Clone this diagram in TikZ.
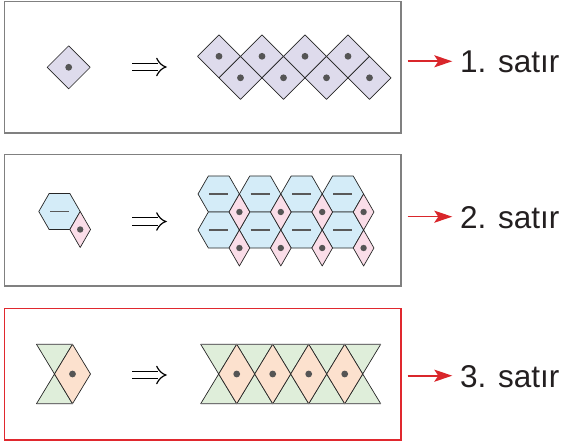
\documentclass[tikz,border=0pt]{standalone}
\usepackage{fontspec}
\setmainfont{Liberation Sans}
\usetikzlibrary{arrows.meta}
\definecolor{sqfill}{HTML}{DEDBEC}
\definecolor{hexfill}{HTML}{D4ECF8}
\definecolor{pinkfill}{HTML}{FADDE8}
\definecolor{greenfill}{HTML}{DFEEDA}
\definecolor{orangefill}{HTML}{FCE1CE}
\definecolor{dotc}{HTML}{555555}
\definecolor{boxgray}{HTML}{808080}
\definecolor{boxred}{HTML}{E0282E}
\definecolor{arrred}{HTML}{D9262B}
\definecolor{textc}{HTML}{231F20}
\begin{document}
\begin{tikzpicture}[x=1pt,y=-1pt,
  tile/.style={draw=black!85, line width=0.7pt, line join=round},
  frame/.style={draw=boxgray, line width=1.3pt},
  redframe/.style={draw=boxred, line width=1.6pt},
  dotmark/.style={fill=dotc},
  dashmark/.style={draw=black!65, line width=1.5pt},
  implies/.style={draw=black, line width=1.2pt},
  redarrow/.style={draw=arrred, line width=1.6pt, -{Stealth[length=18pt,width=12pt,inset=4pt]}},
  label/.style={anchor=base west, inner sep=0pt, text=textc, font=\fontsize{31.5}{32}\selectfont},
  sqr/.pic={\path[tile, fill=sqfill] (-21.5,0)--(0,-21.5)--(21.5,0)--(0,21.5)--cycle;
            \fill[dotmark] (0,0) circle (3.4);},
  hexa/.pic={\path[tile, fill=hexfill] (-20.7,0)--(-10.35,-18)--(10.35,-18)--(20.7,0)--(10.35,18)--(-10.35,18)--cycle;
             \draw[dashmark] (-9.5,0)--(9.5,0);},
  rhomb/.pic={\path[tile, fill=pinkfill] (0,-18)--(10.35,0)--(0,18)--(-10.35,0)--cycle;
              \fill[dotmark] (0,0) circle (3.2);},
  tridown/.pic={\path[tile, fill=greenfill] (-18,-29.7)--(18,-29.7)--(0,0)--cycle;},
  triup/.pic={\path[tile, fill=greenfill] (-18,29.7)--(18,29.7)--(0,0)--cycle;},
  diam/.pic={\path[tile, fill=orangefill] (-18,0)--(0,-29.7)--(18,0)--(0,29.7)--cycle;
             \fill[dotmark] (0,0) circle (3.4);},
  impl/.pic={\draw[implies] (-17,-3.85)--(9,-3.85);
             \draw[implies] (-17,3.85)--(9,3.85);
             \draw[implies, line cap=round] (7.7,-8.7) .. controls (9.8,-4.3) and (12.8,-1.4) .. (16.7,0)
                                   .. controls (12.8,1.4) and (9.8,4.3) .. (7.7,8.7);}
]
\useasboundingbox (0,0) rectangle (561,443);

% frames
\draw[frame] (4.5,1.3) rectangle (401,133);
\draw[frame] (4.5,154.5) rectangle (401,286);
\draw[redframe] (4.5,308.5) rectangle (401,440);

% row 1
\pic at (68.7,67.3) {sqr};
\pic at (149,67) {impl};
\foreach \k in {0,...,3}{
  \pic at ({219+43*\k},56.3) {sqr};
  \pic at ({240.5+43*\k},77.8) {sqr};
}

% row 2
\pic at (59.5,211.5) {hexa};
\pic at (80.2,229.5) {rhomb};
\pic at (149,221.5) {impl};
\foreach \k in {0,...,3}{
  \pic at ({218.7+41.4*\k},194) {hexa};
  \pic at ({218.7+41.4*\k},230) {hexa};
}
\foreach \k in {0,...,3}{
  \pic at ({239.4+41.4*\k},212) {rhomb};
  \pic at ({239.4+41.4*\k},248) {rhomb};
}

% row 3
\pic at (54.5,374) {tridown};
\pic at (54.5,374) {triup};
\pic at (72.5,374) {diam};
\draw[draw=black!55, line width=1.2pt] (36.5,344.3)--(72.5,344.3) (36.5,403.7)--(72.5,403.7);
\pic at (149,375) {impl};
\foreach \k in {0,...,4}{
  \pic at ({218.7+36*\k},374) {tridown};
  \pic at ({218.7+36*\k},374) {triup};
}
\foreach \k in {0,...,3}{
  \pic at ({236.7+36*\k},374) {diam};
}
\draw[draw=black!55, line width=1.2pt] (200.7,344.3)--(380.7,344.3) (200.7,403.7)--(380.7,403.7);

% labels and arrows
\node[label] (l1) at (460,72.7) {1. satır};
\node[label] (l2) at (460,229) {2. satır};
\node[label] (l3) at (460,387.7) {3. satır};
\coordinate (a1) at (407.5,61.3);
\coordinate (a2) at (407.5,216.7);
\coordinate (a3) at (407.5,375.7);
\draw[redarrow, shorten >=7.7pt] (a1) -- (a1 -| l1.west);
\draw[redarrow, shorten >=7.7pt] (a2) -- (a2 -| l2.west);
\draw[redarrow, shorten >=7.7pt] (a3) -- (a3 -| l3.west);
\end{tikzpicture}
\end{document}
